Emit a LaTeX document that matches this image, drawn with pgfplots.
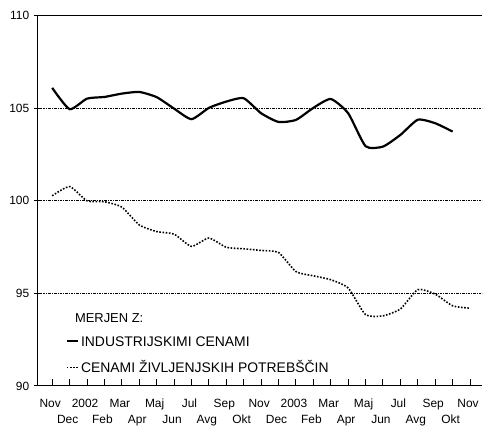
\documentclass[border=0pt]{standalone}
\usepackage{fontspec}
\setmainfont{Liberation Sans}
\usepackage{pgfplots}
\pgfplotsset{compat=1.18}
\begin{document}
\begin{tikzpicture}
\begin{axis}[
  at={(0,0)}, anchor=south west,
  scale only axis, width=446bp, height=371bp,
  xmin=-0.86, xmax=24.71, ymin=90, ymax=110,
  axis x line*=bottom, axis y line*=left,
  axis line style={line width=1bp, -},
  ytick={90,95,100,105,110},
  ytick align=center, xtick align=inside,
  major tick length=7bp,
  ytick style={black, line width=1bp},
  xtick style={black, line width=1bp},
  xtick={0,2,...,24},
  xticklabels={Nov,2002,Mar,Maj,Jul,Sep,Nov,2003,Mar,Maj,Jul,Sep,Nov},
  extra x ticks={1,3,...,23},
  extra x tick labels={Dec,Feb,Apr,Jun,Avg,Okt,Dec,Feb,Apr,Jun,Avg,Okt},
  extra x tick style={xticklabel style={yshift=-15.7bp}},
  xticklabel style={anchor=base, yshift=-21.6bp, xshift=-2bp, font=\fontsize{12}{14}\selectfont},
  yticklabel style={anchor=east, xshift=-1bp, font=\fontsize{12}{14}\selectfont},
  /pgf/number format/assume math mode=true,
  clip=false,
]
\draw[line width=1.1bp, dash pattern=on 2.6bp off 1bp on 1bp off 1bp]
  (axis cs:-0.86,95) -- (axis cs:24.71,95)
  (axis cs:-0.86,100) -- (axis cs:24.71,100)
  (axis cs:-0.86,105) -- (axis cs:24.71,105);
\draw[line width=1.2bp] (rel axis cs:0,1) -- (rel axis cs:1,1);
\addplot[black, line width=2.2bp, smooth, tension=0.35] coordinates {
(0,106.1) (1,104.95) (2,105.52) (3,105.61) (4,105.79) (5,105.88) (6,105.6)
(7,104.98) (8,104.41) (9,105.02) (10,105.36) (11,105.54) (12,104.73) (13,104.26)
(14,104.37) (15,105.02) (16,105.5) (17,104.73) (18,102.95) (19,102.93) (20,103.56)
(21,104.38) (22,104.19) (23,103.74)};
\addplot[black, line width=1.6bp, dash pattern=on 1.6bp off 1.6bp, smooth, tension=0.35] coordinates {
(0,100.27) (1,100.77) (2,100.0) (3,99.95) (4,99.66) (5,98.7) (6,98.34) (7,98.2)
(8,97.54) (9,97.99) (10,97.49) (11,97.41) (12,97.32) (13,97.21) (14,96.18)
(15,95.95) (16,95.74) (17,95.29) (18,93.85) (19,93.79) (20,94.16) (21,95.2)
(22,94.96) (23,94.33) (24,94.2)};
\end{axis}
\node[anchor=base west, inner sep=0, font=\fontsize{13}{15}\selectfont] at (37.7bp,63.4bp) {MERJEN Z:};
\draw[line width=2.4bp] (29.7bp,45bp) -- (40.7bp,45bp);
\node[anchor=base west, inner sep=0, font=\fontsize{14}{16}\selectfont] at (43.7bp,40bp) {INDUSTRIJSKIMI CENAMI};
\draw[line width=1.6bp, dash pattern=on 1.6bp off 1.6bp] (29.7bp,18.4bp) -- (41bp,18.4bp);
\node[anchor=base west, inner sep=0, font=\fontsize{14}{16}\selectfont] at (43.7bp,13.4bp) {CENAMI ŽIVLJENJSKIH POTREBŠČIN};
\path[use as bounding box] (-37.3bp,-41.3bp) rectangle (446bp,386.7bp);
\end{tikzpicture}
\end{document}
